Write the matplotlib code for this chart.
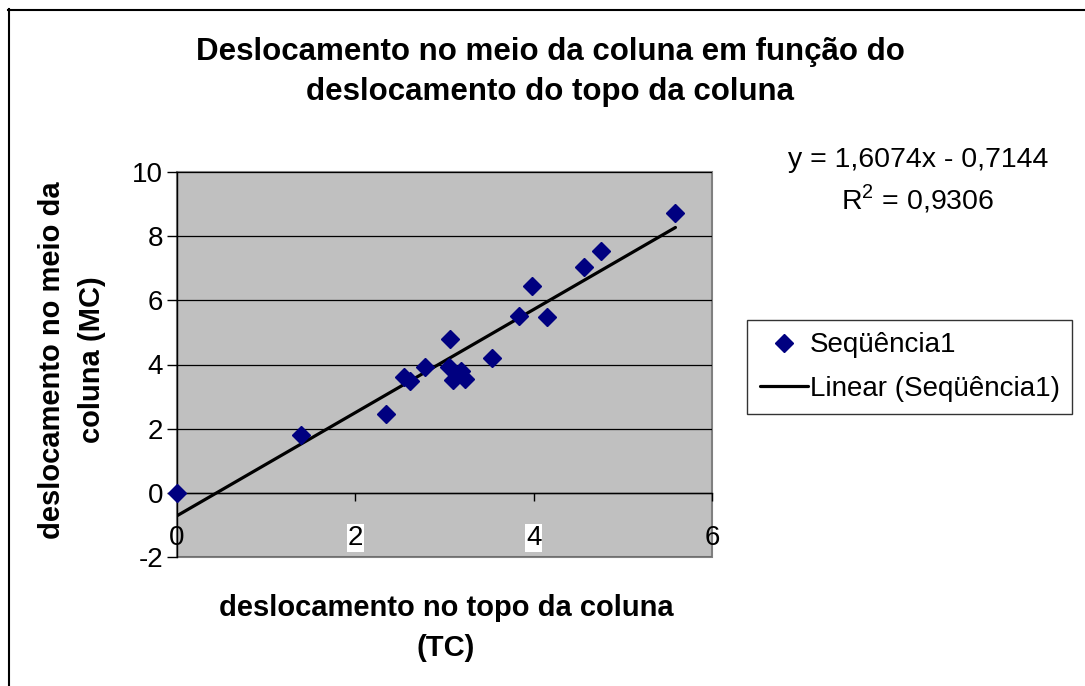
import matplotlib
matplotlib.use("Agg")
import matplotlib.pyplot as plt
from matplotlib.patches import Rectangle
from matplotlib.lines import Line2D
import numpy as np

plt.rcParams['font.family'] = ['Liberation Sans', 'DejaVu Sans']
plt.rcParams['axes.unicode_minus'] = False
plt.rcParams['mathtext.fontset'] = 'custom'
plt.rcParams['mathtext.rm'] = 'Liberation Sans'

# Data
tc = [0.0, 1.39, 2.34, 2.55, 2.61, 2.78, 3.05, 3.06, 3.10, 3.19, 3.23, 3.53, 3.84, 3.98, 4.15, 4.57, 4.76, 5.59]
mc = [0.0, 1.81, 2.46, 3.60, 3.48, 3.92, 3.92, 4.78, 3.52, 3.81, 3.56, 4.20, 5.50, 6.46, 5.48, 7.05, 7.54, 8.71]
slope = 1.6074
intercept = -0.7144
r2 = 0.9306
x_ticks = [0, 2, 4, 6]
y_ticks = [-2, 0, 2, 4, 6, 8, 10]

title = "Deslocamento no meio da coluna em função do\ndeslocamento do topo da coluna"
xlabel = "deslocamento no topo da coluna\n(TC)"
ylabel = "deslocamento no meio da\ncoluna (MC)"
series_name = "Seqüência1"
trend_name = "Linear (Seqüência1)"

W, H = 1085, 686
fig = plt.figure(figsize=(W / 100, H / 100), dpi=100)
fig.patch.set_facecolor('white')

# outer chart frame (left and top visible)
fig.add_artist(Line2D([8.5 / W, 8.5 / W], [0, 1 - 9 / H], transform=fig.transFigure, color='black', lw=1.5))
fig.add_artist(Line2D([8 / W, 1], [1 - 9.5 / H, 1 - 9.5 / H], transform=fig.transFigure, color='black', lw=1.5))

L, R, T, B = 177, 712, 172, 557
ax = fig.add_axes([L / W, 1 - B / H, (R - L) / W, (B - T) / H])
ax.set_facecolor('#c0c0c0')

ax.set_xlim(0, 6)
ax.set_ylim(-2, 10)
ax.set_xticks(x_ticks)
ax.set_yticks(y_ticks)

for s in ['top', 'right']:
    ax.spines[s].set_visible(False)
ax.spines['left'].set_color('black')
ax.spines['left'].set_linewidth(1.0)
ax.spines['bottom'].set_position(('data', 0))
ax.spines['bottom'].set_color('black')
ax.spines['bottom'].set_linewidth(1.0)
ax.add_patch(Rectangle((0, 0), 1, 1, transform=ax.transAxes, fill=False,
                       edgecolor='#808080', lw=1.5, clip_on=False, zorder=0.5))

ax.grid(axis='y', color='black', lw=0.9)
ax.set_axisbelow(True)

ax.tick_params(axis='y', direction='out', length=7, width=1, labelsize=20, pad=3)
ax.tick_params(axis='x', direction='out', length=6, width=1, labelsize=20, pad=17)
for lab in ax.get_xticklabels():
    if lab.get_text() in ('2', '4'):
        lab.set_bbox(dict(facecolor='white', edgecolor='none', pad=0.5))

# data
ax.plot(tc, mc, linestyle='none', marker='D', markersize=9.5, color='#000080',
        label=series_name, zorder=3, clip_on=False)
xt = np.array([0.0, max(tc)])
ax.plot(xt, slope * xt + intercept, color='black', lw=2.3, label=trend_name,
        zorder=2, solid_capstyle='round')

fig.text(550 / W, 1 - 72 / H, title, ha='center', va='center', fontsize=22.5,
         fontweight='bold', linespacing=1.45)
fig.text(446 / W, 1 - 628 / H, xlabel, ha='center', va='center', fontsize=21,
         fontweight='bold', linespacing=1.5)
fig.text(72 / W, 1 - 360 / H, ylabel, ha='center', va='center', fontsize=21,
         fontweight='bold', rotation=90, linespacing=1.55)

eq = "y = {:.4f}x - {:.4f}".format(slope, -intercept).replace('.', ',')
fig.text(918 / W, 1 - 160 / H, eq, ha='center', va='center', fontsize=20.5)
fig.text(918 / W, 1 - 199 / H, "R$^{2}$ = " + "{:.4f}".format(r2).replace('.', ','),
         ha='center', va='center', fontsize=20.5)

leg = fig.legend(loc='upper left', bbox_to_anchor=(747 / W, 1 - 320 / H), fontsize=20,
                 frameon=True, fancybox=False, edgecolor='black', borderpad=0.45,
                 handlelength=1.75, handletextpad=0.05, labelspacing=0.62, borderaxespad=0)
leg.get_frame().set_linewidth(1.0)

fig.savefig('out.png', dpi=100, facecolor='white')
